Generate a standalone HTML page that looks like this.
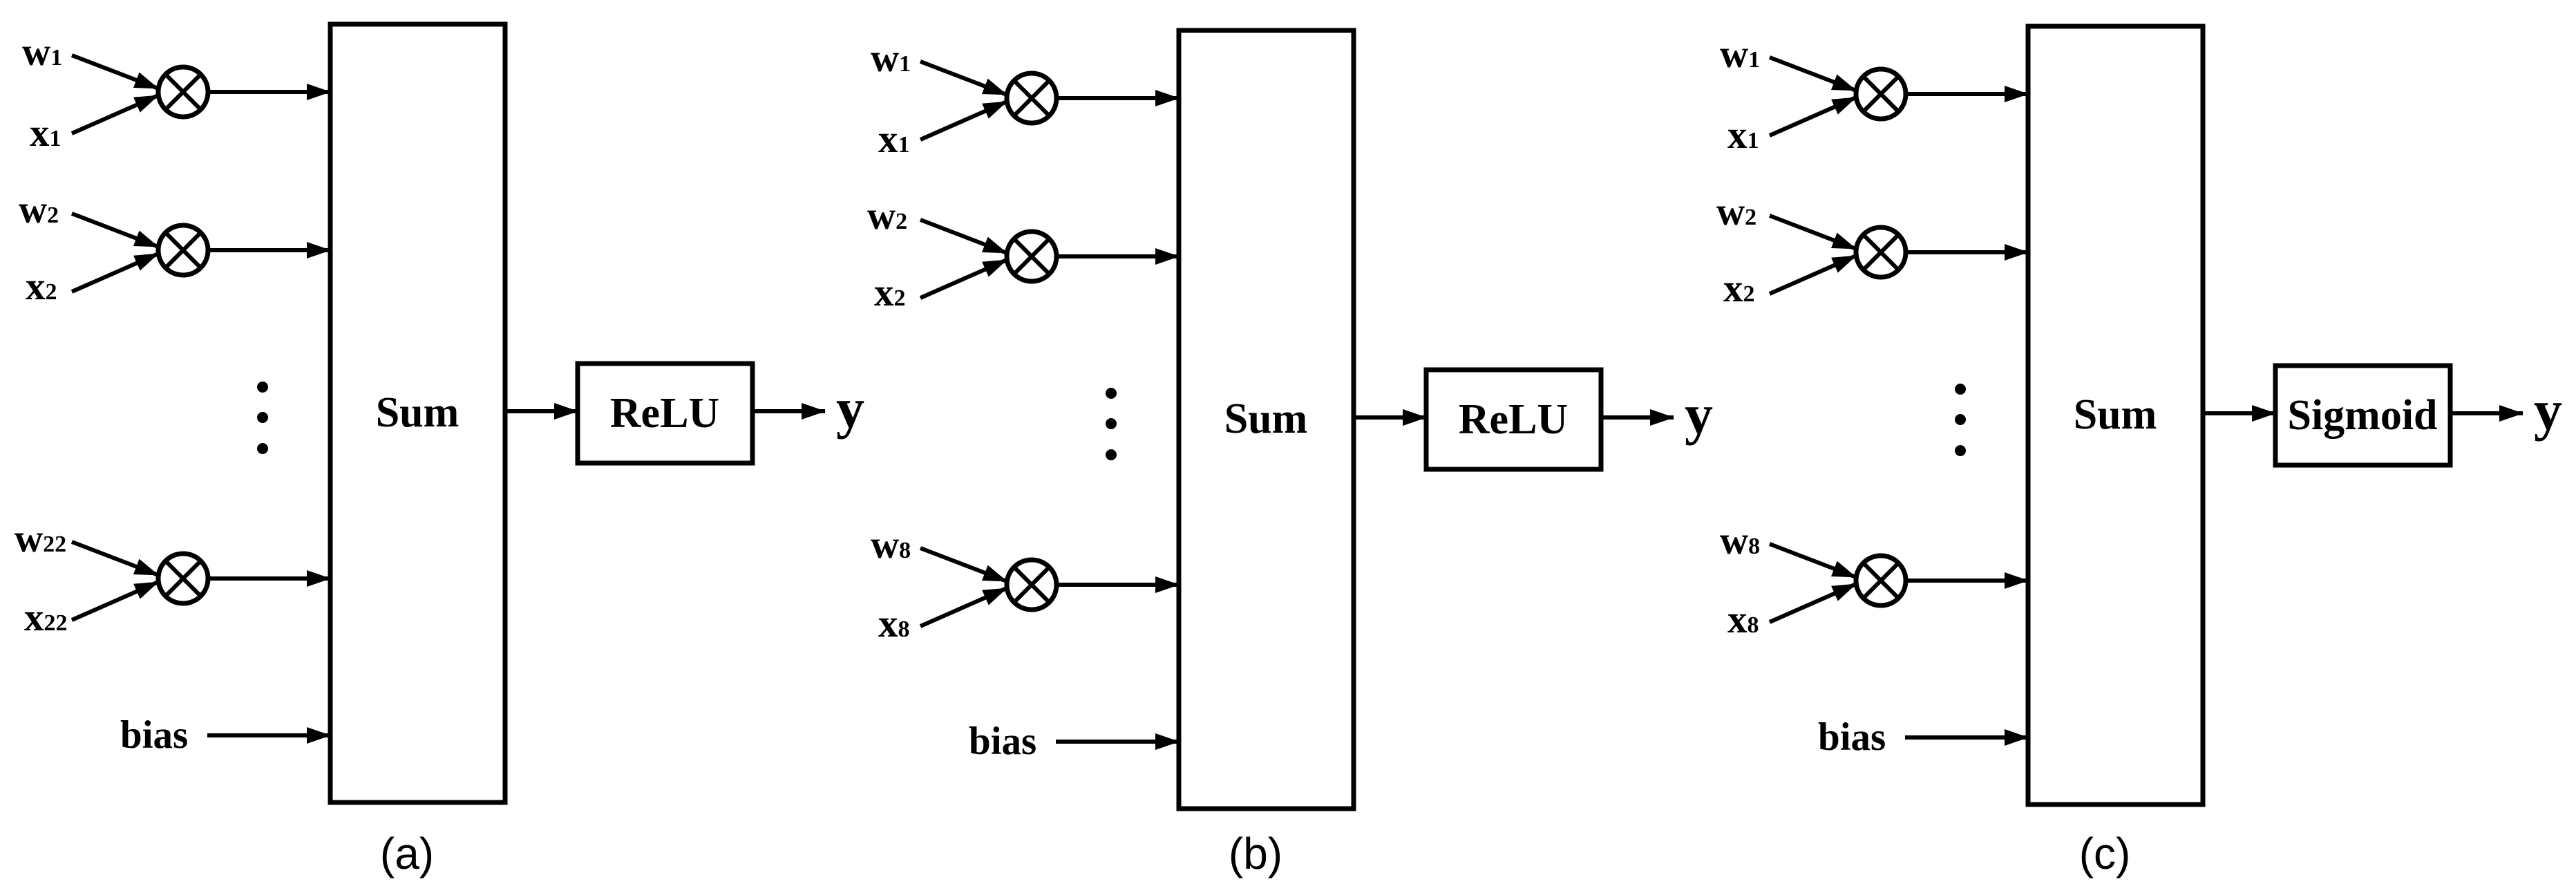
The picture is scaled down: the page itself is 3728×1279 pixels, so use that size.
<!DOCTYPE html>
<html><head><meta charset="utf-8"><style>
html,body{margin:0;padding:0;background:#fff;}
svg{display:block;}
.t{font-family:"Liberation Serif",serif;font-weight:bold;fill:#000;}
.c{font-family:"Liberation Sans",sans-serif;fill:#000;}
</style></head><body>
<svg width="3728" height="1279" viewBox="0 0 3728 1279" xmlns="http://www.w3.org/2000/svg">
<defs>
<marker id="ah" markerUnits="userSpaceOnUse" markerWidth="40" markerHeight="30" refX="34" refY="12" orient="auto">
<path d="M0,0 L35,12 L0,24 Z" fill="#000"/>
</marker>
<g id="mul">
<circle cx="0" cy="0" r="36" fill="#fff" stroke="#000" stroke-width="7"/>
<line x1="-25" y1="-25" x2="25" y2="25" stroke="#000" stroke-width="6"/>
<line x1="-25" y1="25" x2="25" y2="-25" stroke="#000" stroke-width="6"/>
</g>
<g id="row">
<line x1="104" y1="-53" x2="229" y2="-5" stroke="#000" stroke-width="6" marker-end="url(#ah)"/>
<line x1="104" y1="60" x2="229" y2="5" stroke="#000" stroke-width="6" marker-end="url(#ah)"/>
<use href="#mul" x="265" y="0"/>
<line x1="302" y1="0" x2="478" y2="0" stroke="#000" stroke-width="6" marker-end="url(#ah)"/>
</g>
<g id="common">
<rect x="478" y="35" width="253" height="1126" fill="#fff" stroke="#000" stroke-width="7"/>
<use href="#row" x="0" y="133"/>
<use href="#row" x="0" y="362"/>
<use href="#row" x="0" y="837"/>
<line x1="300" y1="1064" x2="478" y2="1064" stroke="#000" stroke-width="6" marker-end="url(#ah)"/>
<circle cx="380" cy="560" r="8"/><circle cx="380" cy="604" r="8"/><circle cx="380" cy="649" r="8"/>
<line x1="731" y1="595" x2="836" y2="595" stroke="#000" stroke-width="6" marker-end="url(#ah)"/>
<rect x="836" y="526" width="253" height="144" fill="#fff" stroke="#000" stroke-width="7"/>
<line x1="1089" y1="595" x2="1194" y2="595" stroke="#000" stroke-width="6" marker-end="url(#ah)"/>
</g>
</defs>

<!-- Panel a -->
<g transform="translate(0,0)">
<use href="#common"/>
<text class="t" x="604" y="617" font-size="62" text-anchor="middle">Sum</text>
<text class="t" x="962" y="618" font-size="62" text-anchor="middle">ReLU</text>
<text class="t" x="1210" y="618" font-size="82">y</text>
<text class="t" x="32" y="94" font-size="57">w<tspan font-size="34">1</tspan></text>
<text class="t" x="43" y="211" font-size="57">x<tspan font-size="34">1</tspan></text>
<text class="t" x="27" y="322" font-size="57">w<tspan font-size="34">2</tspan></text>
<text class="t" x="37" y="433" font-size="57">x<tspan font-size="34">2</tspan></text>
<text class="t" x="21" y="798" font-size="57">w<tspan font-size="34">22</tspan></text>
<text class="t" x="35" y="912" font-size="57">x<tspan font-size="34">22</tspan></text>
<text class="t" x="174" y="1082" font-size="57">bias</text>
<text class="c" x="589" y="1257" font-size="64" text-anchor="middle">(a)</text>
</g>

<!-- Panel b -->
<g transform="translate(1228,9)">
<use href="#common"/>
<text class="t" x="604" y="617" font-size="62" text-anchor="middle">Sum</text>
<text class="t" x="962" y="618" font-size="62" text-anchor="middle">ReLU</text>
<text class="t" x="1210" y="618" font-size="82">y</text>
<text class="t" x="32" y="94" font-size="57">w<tspan font-size="34">1</tspan></text>
<text class="t" x="43" y="211" font-size="57">x<tspan font-size="34">1</tspan></text>
<text class="t" x="27" y="322" font-size="57">w<tspan font-size="34">2</tspan></text>
<text class="t" x="37" y="433" font-size="57">x<tspan font-size="34">2</tspan></text>
<text class="t" x="32" y="798" font-size="57">w<tspan font-size="34">8</tspan></text>
<text class="t" x="43" y="912" font-size="57">x<tspan font-size="34">8</tspan></text>
<text class="t" x="174" y="1082" font-size="57">bias</text>
<text class="c" x="589" y="1248" font-size="64" text-anchor="middle">(b)</text>
</g>

<!-- Panel c -->
<g transform="translate(2457,3)">
<use href="#common"/>
<text class="t" x="604" y="617" font-size="62" text-anchor="middle">Sum</text>
<text class="t" x="962" y="618" font-size="62" text-anchor="middle">Sigmoid</text>
<text class="t" x="1210" y="618" font-size="82">y</text>
<text class="t" x="32" y="94" font-size="57">w<tspan font-size="34">1</tspan></text>
<text class="t" x="43" y="211" font-size="57">x<tspan font-size="34">1</tspan></text>
<text class="t" x="27" y="322" font-size="57">w<tspan font-size="34">2</tspan></text>
<text class="t" x="37" y="433" font-size="57">x<tspan font-size="34">2</tspan></text>
<text class="t" x="32" y="798" font-size="57">w<tspan font-size="34">8</tspan></text>
<text class="t" x="43" y="912" font-size="57">x<tspan font-size="34">8</tspan></text>
<text class="t" x="174" y="1082" font-size="57">bias</text>
<text class="c" x="589" y="1254" font-size="64" text-anchor="middle">(c)</text>
</g>
</svg>
</body></html>
